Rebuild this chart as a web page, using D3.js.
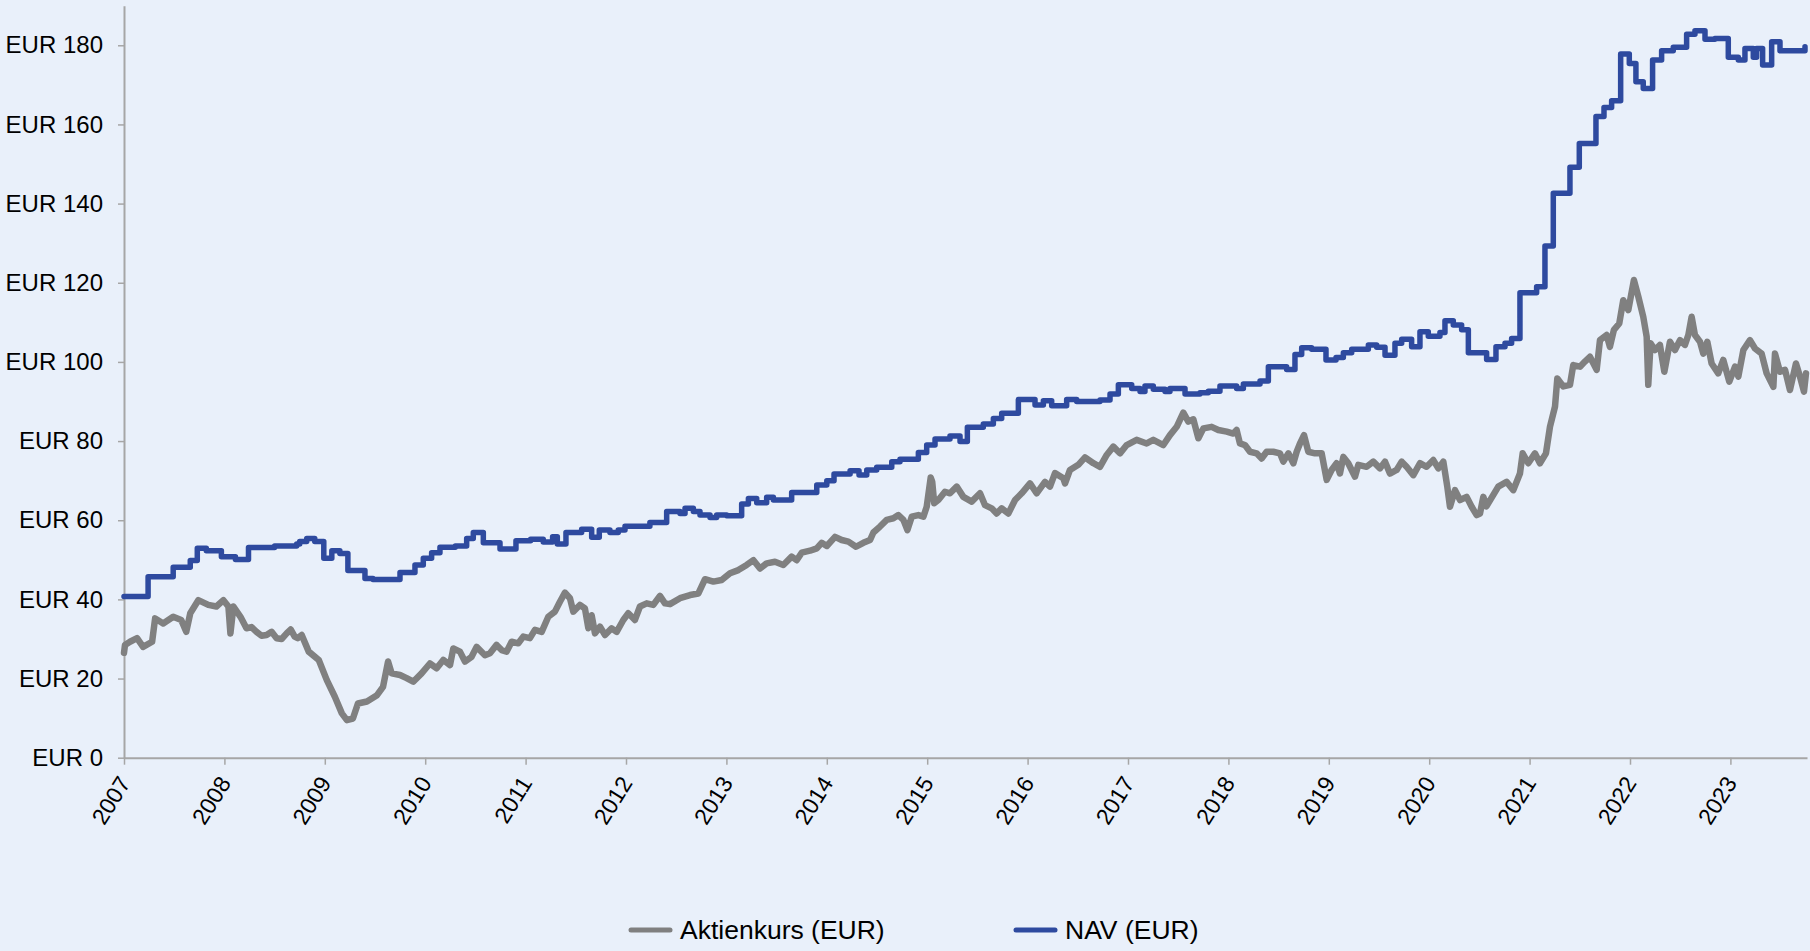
<!DOCTYPE html>
<html>
<head>
<meta charset="utf-8">
<script src="https://cdn.jsdelivr.net/npm/d3@7"></script>
<style>
  html, body { margin: 0; padding: 0; background: #E9F0FA; }
  svg { display: block; }
  text { font-family: "Liberation Sans", Arial, sans-serif; }
</style>
</head>
<body>
<svg id="chart" width="1810" height="951"></svg>
<script>
// ---------- DATA ----------
const seriesNames = ["Aktienkurs (EUR)", "NAV (EUR)"];
const yearTicks = [2007,2008,2009,2010,2011,2012,2013,2014,2015,2016,2017,2018,2019,2020,2021,2022,2023];
const yTicks = [0,20,40,60,80,100,120,140,160,180];

// NAV (EUR) – step series: decimal year of change, value from then on
const navYears = [2007.00,2007.24,2007.49,2007.66,2007.73,2007.82,2007.97,2008.11,2008.24,2008.50,2008.72,2008.75,2008.82,2008.90,2008.99,2009.07,2009.15,2009.23,2009.40,2009.48,2009.749,2009.898,2009.981,2010.064,2010.147,2010.30,2010.413,2010.479,2010.579,2010.745,2010.904,2011.05,2011.176,2011.269,2011.316,2011.402,2011.558,2011.658,2011.734,2011.840,2011.923,2011.990,2012.238,2012.405,2012.538,2012.588,2012.671,2012.737,2012.837,2012.903,2013.003,2013.152,2013.219,2013.302,2013.401,2013.468,2013.650,2013.900,2014.000,2014.072,2014.232,2014.321,2014.398,2014.497,2014.647,2014.729,2014.912,2014.995,2015.078,2015.227,2015.327,2015.400,2015.559,2015.659,2015.742,2015.908,2016.074,2016.157,2016.240,2016.389,2016.489,2016.721,2016.821,2016.904,2017.037,2017.120,2017.169,2017.252,2017.369,2017.418,2017.568,2017.717,2017.80,2017.916,2018.082,2018.149,2018.315,2018.398,2018.580,2018.663,2018.730,2018.829,2018.972,2019.072,2019.145,2019.228,2019.394,2019.477,2019.560,2019.659,2019.726,2019.825,2019.908,2019.991,2020.107,2020.157,2020.240,2020.323,2020.390,2020.572,2020.665,2020.755,2020.821,2020.904,2021.070,2021.153,2021.236,2021.402,2021.495,2021.661,2021.741,2021.817,2021.907,2021.993,2022.059,2022.132,2022.225,2022.315,2022.431,2022.564,2022.647,2022.747,2022.846,2022.979,2023.079,2023.145,2023.228,2023.261,2023.321,2023.411,2023.494,2023.726,2023.743];
const navValues = [40.7,45.7,48.1,49.8,52.9,52.3,50.8,50.1,53.1,53.5,54.0,54.6,55.4,54.6,50.4,52.3,51.6,47.3,45.3,45.0,46.8,48.7,50.4,51.8,53.2,53.5,55.4,56.9,54.3,52.7,54.8,55.2,54.5,55.8,54.0,56.9,57.7,55.7,57.5,56.9,57.5,58.5,59.4,62.2,61.7,63.0,62.2,61.3,60.7,61.3,61.1,64.1,65.5,64.4,65.8,65.1,67.0,68.9,70.0,71.7,72.5,71.4,72.7,73.4,74.8,75.4,77.1,79.0,80.5,81.3,79.9,83.5,84.3,85.7,87.0,90.5,89.1,90.2,88.9,90.5,90.0,90.4,91.9,94.2,93.3,92.5,93.9,93.1,92.5,93.3,91.9,92.2,92.6,93.9,93.3,94.4,95.2,98.8,98.1,101.9,103.6,103.2,100.5,101.1,102.3,103.2,104.3,103.7,101.7,104.7,105.7,103.8,107.6,106.5,107.4,110.4,109.3,108.1,102.3,100.6,103.8,104.7,105.9,117.5,119.0,129.3,142.6,149.2,155.2,162.0,164.3,166.0,177.8,175.4,170.8,169.1,176.3,178.6,179.5,182.8,183.7,181.5,181.7,177.0,176.3,179.2,177.0,179.2,175.0,180.9,178.6,178.6,179.6];

// Aktienkurs (EUR) – share price
const priceYears = [2007.00,2007.01,2007.06,2007.13,2007.19,2007.28,2007.31,2007.39,2007.49,2007.57,2007.62,2007.66,2007.74,2007.84,2007.92,2007.99,2008.04,2008.06,2008.09,2008.16,2008.22,2008.27,2008.32,2008.37,2008.42,2008.47,2008.52,2008.57,2008.62,2008.66,2008.70,2008.73,2008.77,2008.84,2008.94,2009.02,2009.10,2009.17,2009.22,2009.28,2009.33,2009.42,2009.52,2009.58,2009.63,2009.666,2009.749,2009.815,2009.881,2009.964,2010.047,2010.114,2010.180,2010.247,2010.280,2010.346,2010.396,2010.462,2010.512,2010.595,2010.645,2010.711,2010.761,2010.811,2010.861,2010.927,2010.977,2011.043,2011.093,2011.160,2011.226,2011.292,2011.342,2011.392,2011.442,2011.475,2011.541,2011.591,2011.625,2011.658,2011.691,2011.741,2011.791,2011.857,2011.907,2011.973,2012.023,2012.089,2012.139,2012.206,2012.272,2012.338,2012.388,2012.438,2012.538,2012.638,2012.721,2012.787,2012.870,2012.953,2013.036,2013.119,2013.202,2013.269,2013.335,2013.401,2013.484,2013.567,2013.650,2013.700,2013.750,2013.833,2013.900,2013.949,2014.000,2014.082,2014.148,2014.215,2014.291,2014.364,2014.431,2014.464,2014.530,2014.597,2014.663,2014.713,2014.763,2014.803,2014.846,2014.912,2014.962,2014.995,2015.035,2015.050,2015.070,2015.111,2015.177,2015.227,2015.294,2015.360,2015.443,2015.526,2015.576,2015.642,2015.692,2015.742,2015.808,2015.875,2015.941,2016.024,2016.090,2016.173,2016.223,2016.273,2016.356,2016.373,2016.422,2016.505,2016.572,2016.655,2016.721,2016.788,2016.854,2016.920,2016.987,2017.086,2017.186,2017.252,2017.352,2017.418,2017.485,2017.551,2017.601,2017.651,2017.701,2017.751,2017.833,2017.900,2017.983,2018.049,2018.082,2018.115,2018.165,2018.215,2018.281,2018.331,2018.381,2018.447,2018.514,2018.547,2018.597,2018.647,2018.680,2018.713,2018.753,2018.796,2018.862,2018.929,2018.979,2019.028,2019.078,2019.111,2019.145,2019.194,2019.261,2019.294,2019.377,2019.443,2019.510,2019.560,2019.609,2019.676,2019.726,2019.775,2019.842,2019.908,2019.974,2020.041,2020.091,2020.141,2020.180,2020.207,2020.257,2020.307,2020.373,2020.423,2020.473,2020.506,2020.539,2020.570,2020.688,2020.771,2020.838,2020.904,2020.931,2020.987,2021.053,2021.103,2021.163,2021.203,2021.253,2021.276,2021.336,2021.402,2021.435,2021.502,2021.551,2021.601,2021.668,2021.701,2021.767,2021.800,2021.840,2021.893,2021.933,2021.983,2022.039,2022.083,2022.132,2022.166,2022.182,2022.205,2022.249,2022.298,2022.342,2022.398,2022.448,2022.498,2022.547,2022.581,2022.614,2022.647,2022.697,2022.730,2022.770,2022.813,2022.879,2022.929,2022.989,2023.046,2023.079,2023.129,2023.195,2023.245,2023.311,2023.361,2023.428,2023.444,2023.494,2023.544,2023.593,2023.653,2023.693,2023.733,2023.753];
const priceValues = [26.5,28.5,29.3,30.2,28.0,29.3,35.2,33.9,35.6,34.8,31.8,36.5,39.8,38.6,38.2,39.8,38.2,31.4,38.2,35.6,32.7,33.0,31.8,30.8,31.0,31.8,30.2,30.0,31.4,32.4,30.6,30.2,31.0,26.8,24.7,19.6,15.4,11.2,9.5,9.9,13.7,14.2,15.8,17.9,24.3,21.3,20.9,20.1,19.2,21.3,23.8,22.6,24.7,23.4,27.6,26.8,24.3,25.5,28.0,25.9,26.4,28.5,27.2,26.8,29.3,28.9,30.6,30.2,32.3,31.8,35.6,36.9,39.4,41.7,40.3,36.9,38.6,37.7,32.7,36.0,31.4,33.1,31.0,32.7,31.8,34.8,36.5,34.8,38.2,39.0,38.6,40.9,39.0,38.8,40.3,41.1,41.5,45.1,44.5,44.9,46.6,47.4,48.7,49.9,47.8,49.1,49.5,48.7,50.8,49.9,51.8,52.3,52.9,54.3,53.5,55.8,55.0,54.6,53.3,54.3,55.0,56.9,58.4,60.1,60.5,61.3,60.1,57.5,60.9,61.3,60.9,63.4,70.8,69.7,64.3,65.1,67.2,66.8,68.5,65.9,64.7,66.8,63.8,63.0,61.7,63.0,61.7,65.1,66.8,69.3,66.8,69.7,68.5,71.9,70.6,69.3,72.7,74.0,75.9,74.4,73.5,76.5,78.6,76.9,79.0,80.3,79.4,80.3,79.0,81.5,83.6,87.2,84.9,85.5,80.7,83.2,83.6,82.8,82.4,81.9,82.8,79.4,79.0,77.3,76.9,75.6,77.3,77.3,76.9,74.8,76.9,74.4,77.3,79.4,81.5,77.3,76.9,76.9,70.2,72.7,74.4,71.8,76.0,74.4,71.0,74.0,73.5,74.8,73.1,74.8,71.8,72.7,74.8,73.5,71.4,74.4,73.5,75.2,73.1,74.8,68.5,63.4,67.6,65.1,65.9,63.4,61.3,61.7,65.9,63.5,68.5,69.7,67.6,71.8,76.9,74.4,76.9,74.4,76.9,83.6,88.7,95.8,93.8,94.2,99.2,98.8,100.1,101.3,98.0,105.5,106.8,103.8,108.1,109.7,115.6,113.1,120.7,116.5,111.4,106.4,94.2,104.7,103.0,104.3,97.5,105.1,103.0,105.5,104.3,106.8,111.4,106.8,105.1,102.1,105.1,99.6,97.1,100.5,95.0,98.8,96.3,103.0,105.5,103.4,102.1,97.1,93.7,102.1,97.5,98.0,92.9,99.6,96.3,92.5,97.1];

const seriesColors = ["#808080", "#2E4A9F"];

// ---------- CHART ----------
const svg = d3.select("#chart");
const W = 1810, H = 951;
const plot = { left: 124, right: 1807, top: 5.7, bottom: 757.7 };

svg.append("rect").attr("width", W).attr("height", H).attr("fill", "#E9F0FA");

const x = d3.scaleLinear().domain([2007, 2023.763]).range([plot.left, plot.right]);
const y = d3.scaleLinear().domain([0, 190]).range([plot.bottom, plot.top]);

const axisColor = "#A6A6A6";

// Y axis
const yAxis = svg.append("g")
  .attr("transform", `translate(${plot.left},0)`)
  .call(d3.axisLeft(y).tickValues(yTicks).tickSize(6).tickSizeOuter(0).tickPadding(15)
    .tickFormat(d => "EUR " + d));
yAxis.select(".domain").attr("stroke", axisColor).attr("stroke-width", 2);
yAxis.selectAll(".tick line").attr("stroke", axisColor).attr("stroke-width", 1.5);
yAxis.selectAll(".tick text").attr("fill", "#000").style("font-size", "24px")
  .style("font-family", "'Liberation Sans', Arial, sans-serif");

// X axis
const xAxis = svg.append("g")
  .attr("transform", `translate(0,${plot.bottom})`)
  .call(d3.axisBottom(x).tickValues(yearTicks).tickSize(7).tickSizeOuter(0).tickFormat(d3.format("d")));
xAxis.select(".domain").attr("stroke", axisColor).attr("stroke-width", 2);
xAxis.selectAll(".tick line").attr("stroke", axisColor).attr("stroke-width", 1.5);
xAxis.selectAll(".tick text")
  .attr("fill", "#000")
  .style("font-size", "23px")
  .style("font-family", "'Liberation Sans', Arial, sans-serif")
  .attr("text-anchor", "end")
  .attr("x", 0).attr("y", 0).attr("dy", "0.35em")
  .attr("transform", "translate(0,21) rotate(-58)");

// Lines
const priceData = priceYears.map((t, i) => [t, priceValues[i]]);
const navData = navYears.map((t, i) => [t, navValues[i]]);

const priceLine = d3.line().x(d => x(d[0])).y(d => y(d[1])).curve(d3.curveLinear);
const navLine = d3.line().x(d => x(d[0])).y(d => y(d[1])).curve(d3.curveStepAfter);

svg.append("path").datum(priceData)
  .attr("d", priceLine).attr("fill", "none")
  .attr("stroke", seriesColors[0]).attr("stroke-width", 6.5)
  .attr("stroke-linejoin", "round").attr("stroke-linecap", "round");

svg.append("path").datum(navData)
  .attr("d", navLine).attr("fill", "none")
  .attr("stroke", seriesColors[1]).attr("stroke-width", 5.5)
  .attr("stroke-linejoin", "round").attr("stroke-linecap", "round");

// Legend
const legendItems = [
  { name: seriesNames[0], color: seriesColors[0], x: 631 },
  { name: seriesNames[1], color: seriesColors[1], x: 1016 }
];
const lg = svg.append("g");
legendItems.forEach(it => {
  lg.append("line").attr("x1", it.x).attr("x2", it.x + 39).attr("y1", 930).attr("y2", 930)
    .attr("stroke", it.color).attr("stroke-width", 5).attr("stroke-linecap", "round");
  lg.append("text").attr("x", it.x + 49).attr("y", 939)
    .style("font-size", "26.5px").attr("fill", "#000").text(it.name);
});
</script>
</body>
</html>
